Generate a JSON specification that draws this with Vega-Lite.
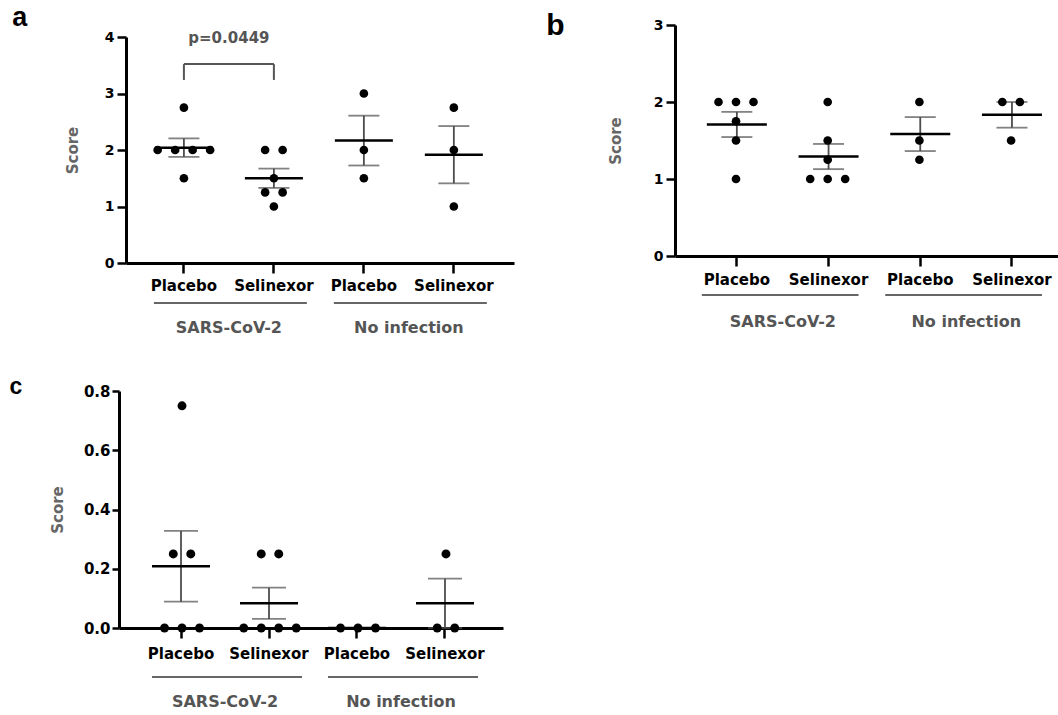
{
  "$schema": "https://vega.github.io/schema/vega-lite/v6.json",
  "background": "white",
  "padding": {"left": 9, "top": 4, "right": 0, "bottom": 0},
  "config": {
    "view": {"stroke": null},
    "font": "DejaVu Sans",
    "axis": {"grid": false, "domainColor": "black", "domainWidth": 3, "tickColor": "black", "tickWidth": 2.5, "labelFont": "DejaVu Sans", "labelFontWeight": "bold", "labelColor": "black", "titleFont": "DejaVu Sans", "titleFontWeight": "bold", "titleColor": "#666666"},
    "title": {"font": "Liberation Sans", "fontWeight": "bold", "fontSize": 27, "anchor": "start", "color": "black", "baseline": "alphabetic"}
  },
  "datasets": {
    "a": [
      {"arm": "SARS-CoV-2|Placebo", "score": 2, "k": -1.5},
      {"arm": "SARS-CoV-2|Placebo", "score": 2, "k": -0.5},
      {"arm": "SARS-CoV-2|Placebo", "score": 2, "k": 0.5},
      {"arm": "SARS-CoV-2|Placebo", "score": 2, "k": 1.5},
      {"arm": "SARS-CoV-2|Placebo", "score": 2.75, "k": 0},
      {"arm": "SARS-CoV-2|Placebo", "score": 1.5, "k": 0},
      {"arm": "SARS-CoV-2|Selinexor", "score": 2, "k": -0.5},
      {"arm": "SARS-CoV-2|Selinexor", "score": 2, "k": 0.5},
      {"arm": "SARS-CoV-2|Selinexor", "score": 1.5, "k": 0},
      {"arm": "SARS-CoV-2|Selinexor", "score": 1.25, "k": -0.5},
      {"arm": "SARS-CoV-2|Selinexor", "score": 1.25, "k": 0.5},
      {"arm": "SARS-CoV-2|Selinexor", "score": 1, "k": 0},
      {"arm": "No infection|Placebo", "score": 3, "k": 0},
      {"arm": "No infection|Placebo", "score": 2, "k": 0},
      {"arm": "No infection|Placebo", "score": 1.5, "k": 0},
      {"arm": "No infection|Selinexor", "score": 2.75, "k": 0},
      {"arm": "No infection|Selinexor", "score": 2, "k": 0},
      {"arm": "No infection|Selinexor", "score": 1, "k": 0}
    ],
    "b": [
      {"arm": "SARS-CoV-2|Placebo", "score": 2, "k": -1},
      {"arm": "SARS-CoV-2|Placebo", "score": 2, "k": 0},
      {"arm": "SARS-CoV-2|Placebo", "score": 2, "k": 1},
      {"arm": "SARS-CoV-2|Placebo", "score": 1.75, "k": 0},
      {"arm": "SARS-CoV-2|Placebo", "score": 1.5, "k": 0},
      {"arm": "SARS-CoV-2|Placebo", "score": 1, "k": 0},
      {"arm": "SARS-CoV-2|Selinexor", "score": 2, "k": 0},
      {"arm": "SARS-CoV-2|Selinexor", "score": 1.5, "k": 0},
      {"arm": "SARS-CoV-2|Selinexor", "score": 1.25, "k": 0},
      {"arm": "SARS-CoV-2|Selinexor", "score": 1, "k": -1},
      {"arm": "SARS-CoV-2|Selinexor", "score": 1, "k": 0},
      {"arm": "SARS-CoV-2|Selinexor", "score": 1, "k": 1},
      {"arm": "No infection|Placebo", "score": 2, "k": 0},
      {"arm": "No infection|Placebo", "score": 1.5, "k": 0},
      {"arm": "No infection|Placebo", "score": 1.25, "k": 0},
      {"arm": "No infection|Selinexor", "score": 2, "k": -0.5},
      {"arm": "No infection|Selinexor", "score": 2, "k": 0.5},
      {"arm": "No infection|Selinexor", "score": 1.5, "k": 0}
    ],
    "c": [
      {"arm": "SARS-CoV-2|Placebo", "score": 0, "k": -1},
      {"arm": "SARS-CoV-2|Placebo", "score": 0, "k": 0},
      {"arm": "SARS-CoV-2|Placebo", "score": 0, "k": 1},
      {"arm": "SARS-CoV-2|Placebo", "score": 0.25, "k": -0.5},
      {"arm": "SARS-CoV-2|Placebo", "score": 0.25, "k": 0.5},
      {"arm": "SARS-CoV-2|Placebo", "score": 0.75, "k": 0},
      {"arm": "SARS-CoV-2|Selinexor", "score": 0, "k": -1.5},
      {"arm": "SARS-CoV-2|Selinexor", "score": 0, "k": -0.5},
      {"arm": "SARS-CoV-2|Selinexor", "score": 0, "k": 0.5},
      {"arm": "SARS-CoV-2|Selinexor", "score": 0, "k": 1.5},
      {"arm": "SARS-CoV-2|Selinexor", "score": 0.25, "k": -0.5},
      {"arm": "SARS-CoV-2|Selinexor", "score": 0.25, "k": 0.5},
      {"arm": "No infection|Placebo", "score": 0, "k": -1},
      {"arm": "No infection|Placebo", "score": 0, "k": 0},
      {"arm": "No infection|Placebo", "score": 0, "k": 1},
      {"arm": "No infection|Selinexor", "score": 0, "k": -0.5},
      {"arm": "No infection|Selinexor", "score": 0, "k": 0.5},
      {"arm": "No infection|Selinexor", "score": 0.25, "k": 0}
    ],
    "groups": [
      {"group": "SARS-CoV-2", "first": "SARS-CoV-2|Placebo", "last": "SARS-CoV-2|Selinexor"},
      {"group": "No infection", "first": "No infection|Placebo", "last": "No infection|Selinexor"}
    ],
    "bracket": [
      {"from": "SARS-CoV-2|Placebo", "to": "SARS-CoV-2|Selinexor", "lo": 3.24, "hi": 3.52, "label": "p=0.0449", "ty": 3.98}
    ]
  },
  "columns": 2,
  "align": "none",
  "spacing": {"row": 40, "column": 32},
  "concat": [
    {
      "title": {"text": "a", "dx": -53, "offset": -7},
      "width": 388,
      "height": 238,
      "layer": [
        {
          "data": {"name": "a"},
          "mark": {"type": "errorbar", "extent": "stderr", "ticks": true, "size": 31, "thickness": 1.8, "color": "#4d4d4d"},
          "encoding": {
            "x": {"field": "arm", "type": "nominal", "scale": {"domain": ["SARS-CoV-2|Placebo", "SARS-CoV-2|Selinexor", "No infection|Placebo", "No infection|Selinexor"], "paddingInner": 0, "paddingOuter": 0.156, "align": 0.46}, "axis": {"title": null, "labelExpr": "split(datum.label, '|')[1]", "tickSize": 10, "labelFontSize": 15, "labelPadding": 5, "labelAngle": 0}},
            "y": {"field": "score", "type": "quantitative", "title": "Score", "scale": {"domain": [0, 4], "range": [238, 12]}, "axis": {"values": [0, 1, 2, 3, 4], "format": "d", "tickSize": 9, "labelFontSize": 14, "labelPadding": 3, "titleFontSize": 15, "titlePadding": 24}}
          }
        },
        {
          "data": {"name": "a"},
          "mark": {"type": "tick", "orient": "horizontal", "size": 58, "thickness": 2.5, "color": "black"},
          "encoding": {
            "x": {"field": "arm", "type": "nominal"},
            "y": {"aggregate": "mean", "field": "score", "type": "quantitative", "title": "Score"}
          }
        },
        {
          "data": {"name": "a"},
          "mark": {"type": "circle", "size": 75, "color": "black", "opacity": 1},
          "encoding": {
            "x": {"field": "arm", "type": "nominal"},
            "xOffset": {"field": "k", "type": "quantitative", "scale": {"domain": [-2.571, 2.571], "zero": false, "nice": false}},
            "y": {"field": "score", "type": "quantitative", "title": "Score"}
          }
        },
        {
          "data": {"name": "groups"},
          "mark": {"type": "rule", "color": "#666666", "strokeWidth": 2, "xOffset": -30, "x2Offset": 33, "yOffset": 40},
          "encoding": {
            "x": {"field": "first", "type": "nominal"},
            "x2": {"field": "last"},
            "y": {"datum": 0}
          }
        },
        {
          "data": {"name": "groups"},
          "mark": {"type": "text", "dx": 45, "dy": 65, "fontSize": 16, "fontWeight": "bold", "color": "#555555", "baseline": "middle", "align": "center"},
          "encoding": {
            "x": {"field": "first", "type": "nominal"},
            "y": {"datum": 0},
            "text": {"field": "group"}
          }
        },
        {
          "data": {"name": "bracket"},
          "mark": {"type": "rule", "color": "#555555", "strokeWidth": 2},
          "encoding": {
            "x": {"field": "from", "type": "nominal"},
            "x2": {"field": "to"},
            "y": {"field": "hi", "type": "quantitative"}
          }
        },
        {
          "data": {"name": "bracket"},
          "mark": {"type": "rule", "color": "#555555", "strokeWidth": 2},
          "encoding": {
            "x": {"field": "from", "type": "nominal"},
            "y": {"field": "lo", "type": "quantitative"},
            "y2": {"field": "hi"}
          }
        },
        {
          "data": {"name": "bracket"},
          "mark": {"type": "rule", "color": "#555555", "strokeWidth": 2},
          "encoding": {
            "x": {"field": "to", "type": "nominal"},
            "y": {"field": "lo", "type": "quantitative"},
            "y2": {"field": "hi"}
          }
        },
        {
          "data": {"name": "bracket"},
          "mark": {"type": "text", "dx": 45, "fontSize": 15, "fontWeight": "bold", "color": "#555555", "baseline": "middle", "align": "center"},
          "encoding": {
            "x": {"field": "from", "type": "nominal"},
            "y": {"field": "ty", "type": "quantitative"},
            "text": {"field": "label"}
          }
        }
      ]
    },
    {
      "title": {"text": "b", "dx": -62, "offset": -23, "fontSize": 30},
      "width": 388,
      "height": 231,
      "layer": [
        {
          "data": {"name": "b"},
          "mark": {"type": "errorbar", "extent": "stderr", "ticks": true, "size": 31, "thickness": 1.8, "color": "#4d4d4d"},
          "encoding": {
            "x": {"field": "arm", "type": "nominal", "scale": {"domain": ["SARS-CoV-2|Placebo", "SARS-CoV-2|Selinexor", "No infection|Placebo", "No infection|Selinexor"], "paddingInner": 0, "paddingOuter": 0.1156, "align": 0.755}, "axis": {"title": null, "labelExpr": "split(datum.label, '|')[1]", "tickSize": 10, "labelFontSize": 15, "labelPadding": 6, "labelAngle": 0}},
            "y": {"field": "score", "type": "quantitative", "title": "Score", "scale": {"domain": [0, 3]}, "axis": {"values": [0, 1, 2, 3], "format": "d", "tickSize": 9, "labelFontSize": 14, "labelPadding": 3, "titleFontSize": 15, "titlePadding": 30}}
          }
        },
        {
          "data": {"name": "b"},
          "mark": {"type": "tick", "orient": "horizontal", "size": 60, "thickness": 2.5, "color": "black"},
          "encoding": {
            "x": {"field": "arm", "type": "nominal"},
            "y": {"aggregate": "mean", "field": "score", "type": "quantitative", "title": "Score"}
          }
        },
        {
          "data": {"name": "b"},
          "mark": {"type": "circle", "size": 75, "color": "black", "opacity": 1},
          "encoding": {
            "x": {"field": "arm", "type": "nominal"},
            "xOffset": {"field": "k", "type": "quantitative", "scale": {"domain": [-2.48, 2.48], "zero": false, "nice": false}},
            "y": {"field": "score", "type": "quantitative", "title": "Score"}
          }
        },
        {
          "data": {"name": "groups"},
          "mark": {"type": "rule", "color": "#666666", "strokeWidth": 2, "xOffset": -35, "x2Offset": 30, "yOffset": 39},
          "encoding": {
            "x": {"field": "first", "type": "nominal"},
            "x2": {"field": "last"},
            "y": {"datum": 0}
          }
        },
        {
          "data": {"name": "groups"},
          "mark": {"type": "text", "dx": 46, "dy": 66, "fontSize": 16, "fontWeight": "bold", "color": "#555555", "baseline": "middle", "align": "center"},
          "encoding": {
            "x": {"field": "first", "type": "nominal"},
            "y": {"datum": 0},
            "text": {"field": "group"}
          }
        }
      ]
    },
    {
      "title": {"text": "c", "dx": -41, "offset": -15, "fontSize": 23},
      "width": 377,
      "height": 237,
      "layer": [
        {
          "data": {"name": "c"},
          "mark": {"type": "errorbar", "extent": "stderr", "ticks": true, "size": 34, "thickness": 1.8, "color": "#4d4d4d"},
          "encoding": {
            "x": {"field": "arm", "type": "nominal", "scale": {"domain": ["SARS-CoV-2|Placebo", "SARS-CoV-2|Selinexor", "No infection|Placebo", "No infection|Selinexor"], "range": [-7, 377], "paddingInner": 0, "paddingOuter": 0.182, "align": 0.5625}, "axis": {"title": null, "labelExpr": "split(datum.label, '|')[1]", "tickSize": 10, "labelFontSize": 15, "labelPadding": 8, "labelAngle": 0}},
            "y": {"field": "score", "type": "quantitative", "title": "Score", "scale": {"domain": [0, 0.8]}, "axis": {"values": [0, 0.2, 0.4, 0.6, 0.8], "format": ".1f", "offset": 7, "tickSize": 7, "labelFontSize": 15, "labelPadding": 2, "titleFontSize": 15, "titlePadding": 18}}
          }
        },
        {
          "data": {"name": "c"},
          "mark": {"type": "tick", "orient": "horizontal", "size": 58, "thickness": 2.5, "color": "black"},
          "encoding": {
            "x": {"field": "arm", "type": "nominal"},
            "y": {"aggregate": "mean", "field": "score", "type": "quantitative", "title": "Score"}
          }
        },
        {
          "data": {"name": "c"},
          "mark": {"type": "circle", "size": 80, "color": "black", "opacity": 1},
          "encoding": {
            "x": {"field": "arm", "type": "nominal"},
            "xOffset": {"field": "k", "type": "quantitative", "scale": {"domain": [-2.51, 2.51], "zero": false, "nice": false}},
            "y": {"field": "score", "type": "quantitative", "title": "Score"}
          }
        },
        {
          "data": {"name": "groups"},
          "mark": {"type": "rule", "color": "#666666", "strokeWidth": 2, "xOffset": -29, "x2Offset": 33, "yOffset": 49},
          "encoding": {
            "x": {"field": "first", "type": "nominal"},
            "x2": {"field": "last"},
            "y": {"datum": 0}
          }
        },
        {
          "data": {"name": "groups"},
          "mark": {"type": "text", "dx": 44, "dy": 74, "fontSize": 16, "fontWeight": "bold", "color": "#555555", "baseline": "middle", "align": "center"},
          "encoding": {
            "x": {"field": "first", "type": "nominal"},
            "y": {"datum": 0},
            "text": {"field": "group"}
          }
        }
      ]
    }
  ]
}
